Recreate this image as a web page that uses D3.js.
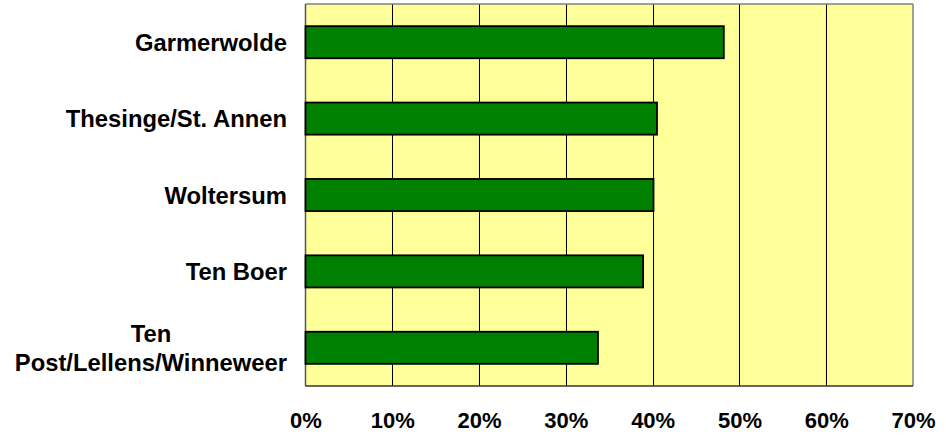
<!DOCTYPE html>
<html>
<head>
<meta charset="utf-8">
<script src="https://cdn.jsdelivr.net/npm/d3@7"></script>
<style>
  html, body { margin: 0; padding: 0; background: #fff; }
  svg { display: block; }
  text { font-family: "Liberation Sans", Arial, sans-serif; font-weight: bold; fill: #000; }
</style>
</head>
<body>
<svg id="chart" width="946" height="436"></svg>
<script>
const categories = ["Garmerwolde", "Thesinge/St. Annen", "Woltersum", "Ten Boer", "Ten\nPost/Lellens/Winneweer"];
const values = [48.2, 40.5, 40.1, 38.9, 33.7];
const tickValues = [0, 10, 20, 30, 40, 50, 60, 70];

const svg = d3.select("#chart");
const m = { left: 305.5, right: 913, top: 4, bottom: 386 };

const x = d3.scaleLinear().domain([0, 70]).range([m.left, m.right]);
const y = d3.scaleBand().domain(categories).range([m.top, m.bottom]).paddingInner(0.58).paddingOuter(0.29);

// plot background
svg.append("rect")
  .attr("x", m.left).attr("y", m.top)
  .attr("width", m.right - m.left).attr("height", m.bottom - m.top)
  .attr("fill", "#FFFF99");

// gridlines
svg.append("g").selectAll("line")
  .data(tickValues.slice(1, -1))
  .join("line")
  .attr("x1", d => Math.round(x(d)) + 0.5).attr("x2", d => Math.round(x(d)) + 0.5)
  .attr("y1", m.top).attr("y2", m.bottom)
  .attr("stroke", "#000").attr("stroke-width", 1);

// border
svg.append("line").attr("x1", m.left).attr("x2", m.right).attr("y1", m.top).attr("y2", m.top)
  .attr("stroke", "#808080").attr("stroke-width", 1.5);
svg.append("line").attr("x1", m.right).attr("x2", m.right).attr("y1", m.top).attr("y2", m.bottom)
  .attr("stroke", "#808080").attr("stroke-width", 1.5);
svg.append("line").attr("x1", m.left).attr("x2", m.left).attr("y1", m.top).attr("y2", m.bottom)
  .attr("stroke", "#555").attr("stroke-width", 1.5);
svg.append("line").attr("x1", m.left).attr("x2", m.right).attr("y1", m.bottom).attr("y2", m.bottom)
  .attr("stroke", "#333").attr("stroke-width", 1.5);

// bars
svg.append("g").selectAll("rect")
  .data(categories.map((c, i) => ({ c, v: values[i] })))
  .join("rect")
  .attr("x", x(0))
  .attr("y", d => y(d.c))
  .attr("width", d => x(d.v) - x(0))
  .attr("height", y.bandwidth())
  .attr("fill", "#008000")
  .attr("stroke", "#000")
  .attr("stroke-width", 1.8);

// x axis tick labels
const xAxis = d3.axisBottom(x).tickValues(tickValues).tickFormat(d => d + "%").tickSize(0).tickPadding(0);
const gx = svg.append("g").attr("transform", `translate(0, ${m.bottom})`).call(xAxis);
gx.select(".domain").remove();
gx.selectAll("text")
  .attr("y", 42).attr("dy", null)
  .style("font-family", '"Liberation Sans", Arial, sans-serif')
  .style("font-weight", "bold")
  .style("font-size", "22px")
  .attr("fill", "#000");

// category labels
const labelRight = 287;
const lg = svg.append("g");
categories.forEach(c => {
  const lines = c.split("\n");
  const cy = y(c) + y.bandwidth() / 2;
  const lh = 29;
  const t = lg.append("text")
    .style("font-size", "23.8px")
    .attr("text-anchor", lines.length > 1 ? "middle" : "end");
  if (lines.length === 1) {
    t.attr("x", labelRight).attr("y", cy).attr("dy", "0.36em").text(c);
  } else {
    lines.forEach((ln, i) => {
      t.append("tspan").attr("x", 0).attr("y", cy + (i - (lines.length - 1) / 2) * lh).attr("dy", "0.36em").text(ln);
    });
    const bb = t.node().getBBox();
    const cx = labelRight - bb.width / 2;
    t.selectAll("tspan").attr("x", cx);
  }
});
</script>
</body>
</html>
